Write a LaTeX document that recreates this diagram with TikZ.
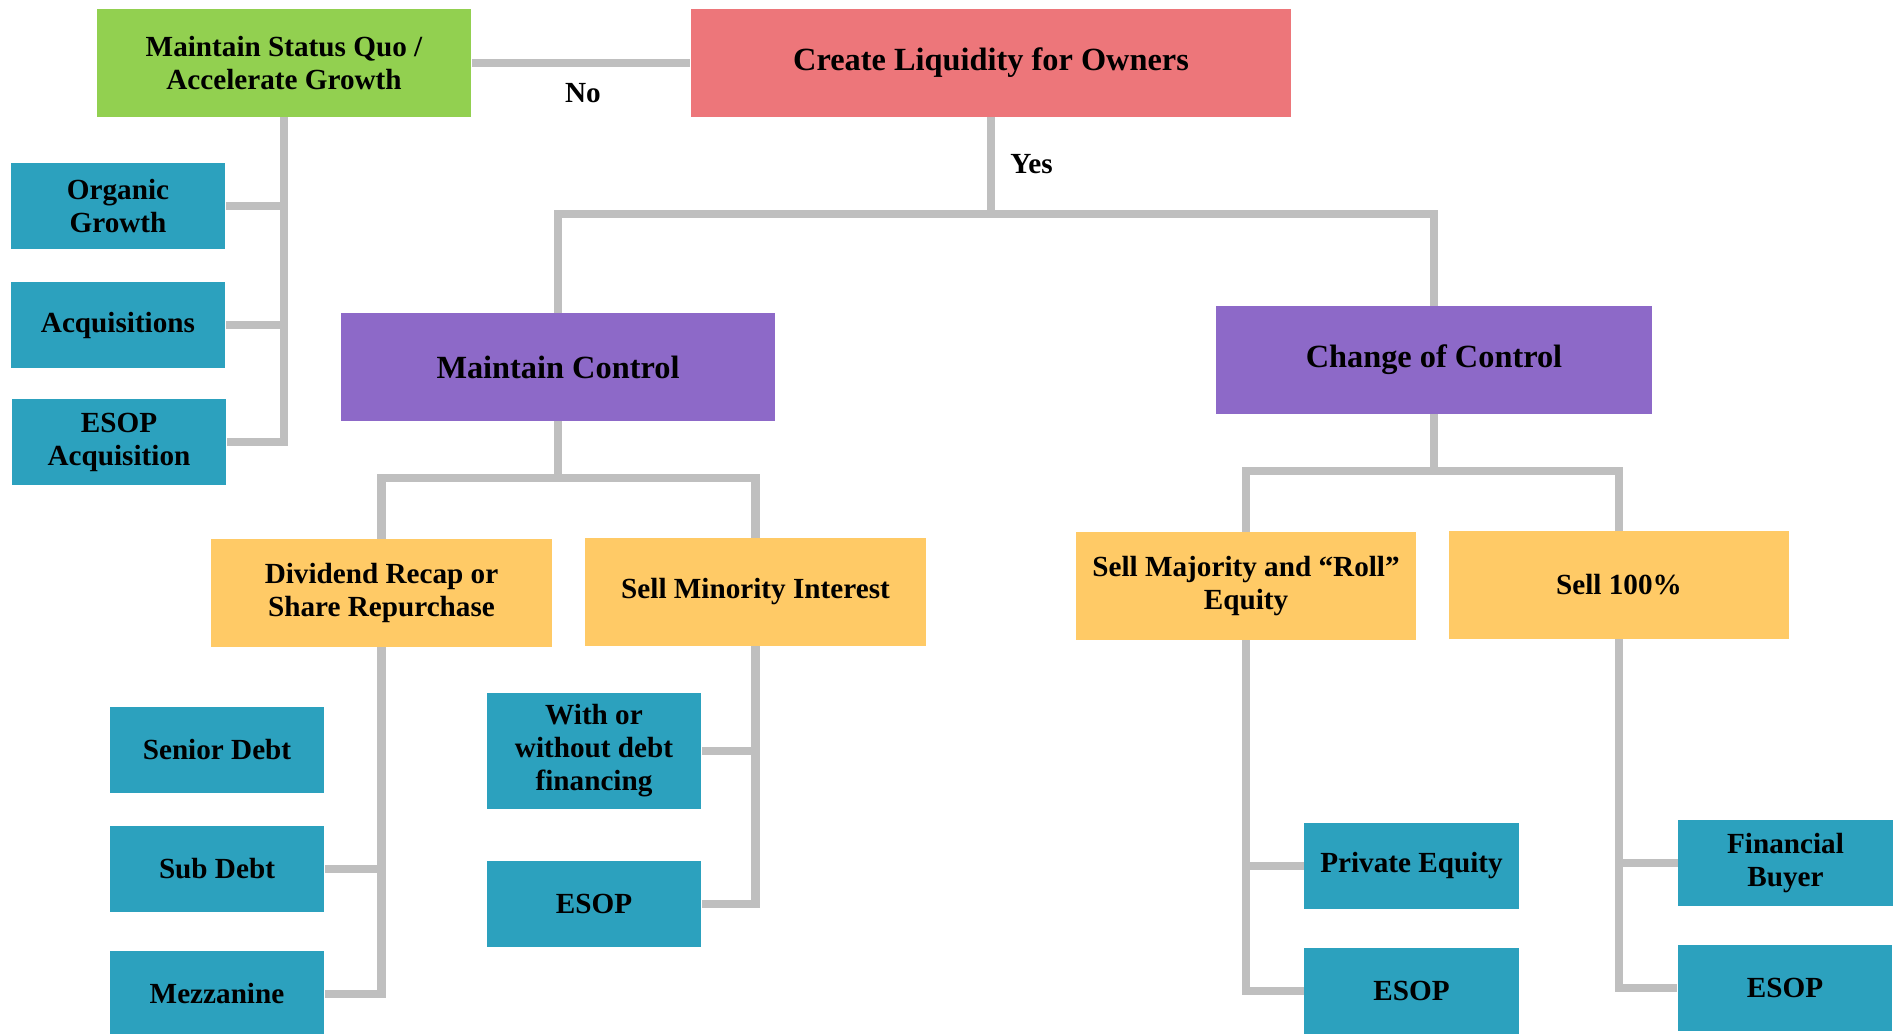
\documentclass[tikz,border=0pt]{standalone}
\usepackage{fontspec}
\setmainfont{Liberation Serif}
\definecolor{mygreen}{RGB}{146, 208, 80}
\definecolor{myred}{RGB}{237, 118, 122}
\definecolor{mypurple}{RGB}{141, 105, 200}
\definecolor{myyellow}{RGB}{255, 202, 102}
\definecolor{myteal}{RGB}{44, 161, 190}
\definecolor{mygray}{RGB}{191, 191, 191}

\begin{document}
\begin{tikzpicture}[x=0.01cm, y=-0.01cm,
    box/.style={rectangle, align=center, inner sep=2pt, font=\bfseries\fontsize{8.3}{9.4}\selectfont},
    big/.style={box, minimum width=4.34cm, minimum height=1.07cm, font=\bfseries\fontsize{9.2}{10.4}\selectfont},
    mid/.style={box, fill=myyellow, minimum width=3.4cm, minimum height=1.07cm},
    leaf/.style={box, fill=myteal, minimum width=2.14cm, minimum height=0.86cm},
    link/.style={draw=mygray, line width=2.3pt},
    tag/.style={font=\bfseries\fontsize{8.3}{9.4}\selectfont}]
    \useasboundingbox (0, 0) rectangle (1894, 1034);

    % top
    \node[big, fill=myred, minimum width=6cm] (liq) at (991, 63) {Create Liquidity for Owners};
    \node[box, fill=mygreen, minimum width=3.74cm, minimum height=1.07cm] (quo) at (284, 63) {Maintain Status Quo /\\Accelerate Growth};
    \draw[link] (quo) -- (liq);
    \node[tag] (no) at (583, 93) {No};

    % status quo
    \node[leaf] (g1) at (118, 206) {Organic\\Growth};
    \node[leaf] (g2) at (118, 325) {Acquisitions};
    \node[leaf] (g3) at (119, 442) {ESOP\\Acquisition};
    \draw[link] (quo) |- (g1);
    \draw[link] (quo) |- (g2);
    \draw[link] (quo) |- (g3);

    % yes
    \coordinate (yes) at (991, 214);
    \draw[link] (liq) -- (yes);
    \node[tag, anchor=west] (yeslbl) at (998, 164) {Yes};
    \node[big, fill=mypurple] (keep) at (558, 367) {Maintain Control};
    \node[big, fill=mypurple, minimum width=4.36cm] (chg) at (1434, 360) {Change of Control};
    \draw[link] (yes) -| (keep);
    \draw[link] (yes) -| (chg);

    % maintain control
    \coordinate (keepj) at (558, 478);
    \node[mid] (div) at (381.5, 593) {Dividend Recap or\\Share Repurchase};
    \node[mid] (minor) at (755.5, 592) {Sell Minority Interest};
    \draw[link] (keep) -- (keepj) -| (div);
    \draw[link] (keepj) -| (minor);

    \node[leaf] (d1) at (217, 750) {Senior Debt};
    \node[leaf] (d2) at (217, 869) {Sub Debt};
    \node[leaf] (d3) at (217, 994) {Mezzanine};
    \draw[link] (div) |- (d2);
    \draw[link] (div) |- (d3);

    \node[leaf, minimum height=1.15cm] (m1) at (594, 751) {With or\\without debt\\financing};
    \node[leaf] (m2) at (594, 904) {ESOP};
    \draw[link] (minor) |- (m1);
    \draw[link] (minor) |- (m2);

    % change of control
    \coordinate (chgj) at (1434, 471);
    \node[mid] (major) at (1246, 586) {Sell Majority and ``Roll''\\Equity};
    \node[mid] (all) at (1619, 585) {Sell 100\%};
    \draw[link] (chg) -- (chgj) -| (major);
    \draw[link] (chgj) -| (all);

    \node[leaf] (j1) at (1411.5, 866) {Private Equity};
    \node[leaf] (j2) at (1411.5, 991) {ESOP};
    \draw[link] (major) |- (j1);
    \draw[link] (major) |- (j2);

    \node[leaf] (a1) at (1785.5, 863) {Financial\\Buyer};
    \node[leaf] (a2) at (1785, 988) {ESOP};
    \draw[link] (all) |- (a1);
    \draw[link] (all) |- (a2);
\end{tikzpicture}
\end{document}
